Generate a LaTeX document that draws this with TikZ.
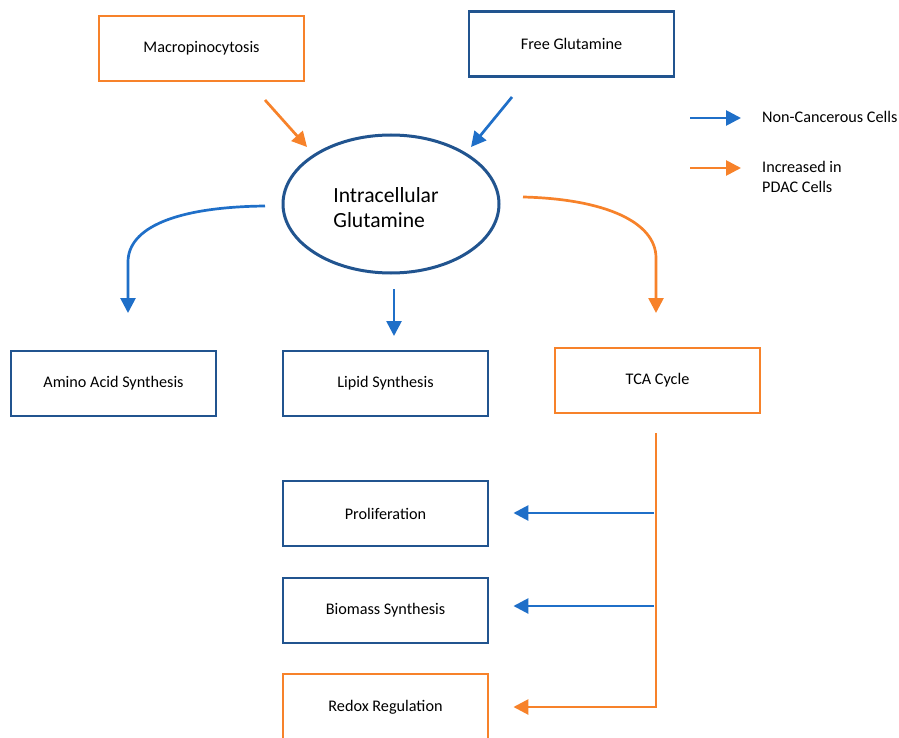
\documentclass[tikz,border=0pt]{standalone}
\usepackage{fontspec}
\setmainfont{Carlito}
\usetikzlibrary{arrows.meta,shapes.geometric}
\definecolor{boxblue}{HTML}{21548F}
\definecolor{arrblue}{HTML}{1F6FC8}
\definecolor{orng}{HTML}{F7822A}
\begin{document}
\begin{tikzpicture}[x=1pt,y=-1pt,
  bx/.style={draw,line width=2.9pt,minimum width=205pt,minimum height=65pt,
    inner sep=0pt,font=\fontsize{16.2}{19}\selectfont},
  bbox/.style={bx,draw=boxblue},
  obox/.style={bx,draw=orng},
  ar/.style={line width=2.7pt,-{Triangle[length=15pt,width=15pt]}},
  barr/.style={ar,draw=arrblue},
  oarr/.style={ar,draw=orng},
  lg/.style={anchor=west,font=\fontsize{16.2}{20}\selectfont,align=left,inner sep=0pt}]
\useasboundingbox (0,0) rectangle (899,738);
\clip (0,0) rectangle (899,738);
\fill[white] (0,0) rectangle (899,738);
% boxes
\node[obox] (macro) at (201.5,48.5) {Macropinocytosis};
\node[bbox] (free) at (571.5,44) {Free Glutamine};
\node[draw=boxblue,line width=3pt,ellipse,minimum width=216pt,minimum height=138pt,
  inner sep=0pt] (glut) at (391,204) {};
\node[align=left,font=\fontsize{21.6}{25}\selectfont,inner sep=0pt] (glutt) at (386,208)
  {Intracellular\\Glutamine};
\node[bbox] (amino) at (113.5,383.5) {Amino Acid Synthesis};
\node[bbox] (lipid) at (385.5,383.5) {Lipid Synthesis};
\node[obox] (tca) at (657.5,380.5) {TCA Cycle};
\node[bbox] (prolif) at (385.5,513.5) {Proliferation};
\node[bbox] (biomass) at (385.5,610.5) {Biomass Synthesis};
\node[obox,minimum height=72pt] (redox) at (385.5,710) {};
\node[font=\fontsize{16.2}{19}\selectfont] (redoxt) at (385.5,707) {Redox Regulation};
% coordinates
\coordinate (m1) at (265,100);
\coordinate (m2) at (307,147);
\coordinate (f1) at (512,97);
\coordinate (f2) at (471,147);
\coordinate (l1) at (265,206);
\coordinate (l2) at (128,313);
\coordinate (c1) at (394,289);
\coordinate (c2) at (394,336);
\coordinate (r1) at (523,197);
\coordinate (r2) at (656,313);
\coordinate (t1) at (656,433);
\coordinate (t2) at (656,707);
\coordinate (p1) at (654,513);
\coordinate (b1) at (654,606);
% arrows
\draw[oarr] (m1) -- (m2);
\draw[barr] (f1) -- (f2);
\draw[barr] (l1) .. controls (175,207) and (128,228) .. (128,262) -- (l2);
\draw[barr] (c1) -- (c2);
\draw[oarr] (r1) .. controls (605,199) and (656,222) .. (656,258) -- (r2);
\draw[oarr] (t1) -- (t2) -- ([xshift=24pt]redox.east |- t2);
\draw[barr] (p1) -- ([xshift=24pt]prolif.east |- p1);
\draw[barr] (b1) -- ([xshift=24pt]biomass.east |- b1);
% legend
\coordinate (lb1) at (690,118);
\coordinate (lb2) at (741,118);
\coordinate (lo1) at (690,168);
\coordinate (lo2) at (741,168);
\draw[barr] (lb1) -- (lb2);
\draw[oarr] (lo1) -- (lo2);
\node[lg] (lbt) at (762,117) {Non-Cancerous Cells};
\node[lg] (lot) at (762,177) {Increased in\\PDAC Cells};
\end{tikzpicture}
\end{document}
